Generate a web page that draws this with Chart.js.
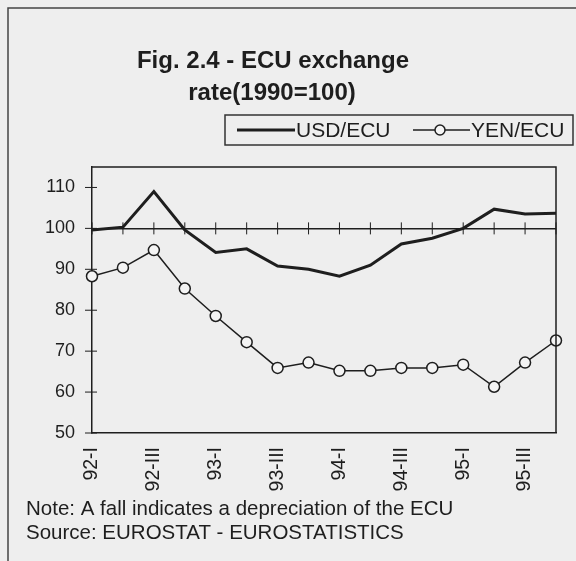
<!DOCTYPE html>
<html>
<head>
<meta charset="utf-8">
<script src="https://cdn.jsdelivr.net/npm/chart.js@4/dist/chart.umd.min.js"></script>
<style>
  html, body { margin: 0; padding: 0; background: #eeeeee; }
  #wrap { width: 576px; height: 561px; }
</style>
</head>
<body>
<div id="wrap"><canvas id="ecuChart" width="576" height="561"></canvas></div>
<script>
// quarters 1992-I .. 1995-IV
const quarters = ['92-I', '92-II', '92-III', '92-IV', '93-I', '93-II', '93-III', '93-IV',
                  '94-I', '94-II', '94-III', '94-IV', '95-I', '95-II', '95-III', '95-IV'];
const usdEcu = [99.6, 100.3, 109.0, 99.6, 94.1, 95.0, 90.8, 90.0,
                88.3, 91.0, 96.2, 97.6, 100.0, 104.7, 103.5, 103.7];
const yenEcu = [88.3, 90.4, 94.7, 85.3, 78.6, 72.2, 65.9, 67.2,
                65.2, 65.2, 65.9, 65.9, 66.7, 61.3, 67.2, 72.6];
const yTicks = [50, 60, 70, 80, 90, 100, 110];

const ink = '#1e1e1e';
const FONT = '"Liberation Sans", Arial, sans-serif';

const pagePlugin = {
    id: 'page',
    beforeDraw(chart) {
        const c = chart.ctx;
        c.save();
        c.fillStyle = '#eeeeee';
        c.fillRect(0, 0, chart.width, chart.height);
        // outer frame (left + top)
        c.strokeStyle = '#444';
        c.lineWidth = 1.5;
        c.beginPath();
        c.moveTo(8, chart.height);
        c.lineTo(8, 8);
        c.lineTo(chart.width, 8);
        c.stroke();
        c.restore();
    },
    afterDraw(chart) {
        const c = chart.ctx;
        const a = chart.chartArea;
        const x = chart.scales.x, y = chart.scales.y;
        c.save();
        c.strokeStyle = ink;
        c.lineWidth = 1.5;
        // plot frame top + right
        c.beginPath();
        c.moveTo(a.left, a.top);
        c.lineTo(a.right, a.top);
        c.lineTo(a.right, a.bottom);
        c.stroke();
        // y tick marks crossing the axis
        c.lineWidth = 1;
        yTicks.forEach(v => {
            const py = y.getPixelForValue(v);
            c.beginPath();
            c.moveTo(a.left - 7, py);
            c.lineTo(a.left + 5, py);
            c.stroke();
        });
        // category ticks sit on the 100 line
        const y100 = y.getPixelForValue(100);
        quarters.forEach((q, i) => {
            const px = x.getPixelForValue(i);
            c.beginPath();
            c.moveTo(px, y100 - 6);
            c.lineTo(px, y100 + 6);
            c.stroke();
        });

        // title
        c.fillStyle = ink;
        c.textAlign = 'center';
        c.textBaseline = 'alphabetic';
        c.font = 'bold 24px ' + FONT;
        c.fillText('Fig. 2.4 - ECU exchange', 273, 68);
        c.fillText('rate(1990=100)', 272, 100);

        // legend box
        c.lineWidth = 1.5;
        c.strokeStyle = '#333';
        c.strokeRect(225, 115, 348, 30);
        c.font = '21px ' + FONT;
        c.textAlign = 'left';
        c.textBaseline = 'middle';
        c.lineWidth = 3;
        c.strokeStyle = ink;
        c.beginPath();
        c.moveTo(237, 130);
        c.lineTo(295, 130);
        c.stroke();
        c.fillText('USD/ECU', 296, 131);
        c.lineWidth = 1.5;
        c.beginPath();
        c.moveTo(413, 130);
        c.lineTo(470, 130);
        c.stroke();
        c.beginPath();
        c.arc(440, 130, 5, 0, Math.PI * 2);
        c.fillStyle = '#f4f4f4';
        c.fill();
        c.stroke();
        c.fillStyle = ink;
        c.fillText('YEN/ECU', 471, 131);

        // notes
        c.font = '20.5px ' + FONT;
        c.textBaseline = 'alphabetic';
        c.fillText('Note: A fall indicates a depreciation of the ECU', 26, 515);
        c.fillText('Source: EUROSTAT - EUROSTATISTICS', 26, 539);
        c.restore();
    }
};

const ctx = document.getElementById('ecuChart').getContext('2d');

const ecuChart = new Chart(ctx, {
    type: 'line',
    data: {
        labels: quarters,
        datasets: [{
            label: 'USD/ECU',
            data: usdEcu,
            borderColor: ink,
            borderWidth: 3,
            pointRadius: 0,
            tension: 0,
            clip: false
        }, {
            label: 'YEN/ECU',
            data: yenEcu,
            borderColor: ink,
            borderWidth: 1.5,
            pointRadius: 5.5,
            pointBorderWidth: 1.5,
            pointBorderColor: ink,
            pointBackgroundColor: '#f4f4f4',
            tension: 0,
            clip: false
        }]
    },
    options: {
        responsive: false,
        animation: false,
        layout: {
            padding: { top: 167, left: 0, right: 20, bottom: 68 }
        },
        scales: {
            x: {
                offset: false,
                afterFit: s => {
                    s.height = 60;
                    s.paddingLeft = 0;
                    s.paddingRight = 0;
                },
                grid: { display: false, drawTicks: false },
                border: { display: true, color: ink, width: 1.5 },
                ticks: {
                    autoSkip: false,
                    minRotation: 90,
                    maxRotation: 90,
                    padding: 14,
                    color: ink,
                    font: { family: FONT, size: 19.5 },
                    callback: (v, i) => (i % 2 === 0 ? quarters[i] : '')
                }
            },
            y: {
                min: 50,
                max: 115,
                afterFit: s => { s.width = 92; },
                afterBuildTicks: s => { s.ticks = yTicks.map(v => ({ value: v })); },
                grid: {
                    drawTicks: false,
                    lineWidth: 1.5,
                    color: c => (c.tick && c.tick.value === 100 ? ink : 'rgba(0,0,0,0)')
                },
                border: { display: true, color: ink, width: 1.5 },
                ticks: {
                    padding: 17,
                    color: ink,
                    font: { family: FONT, size: 18 }
                }
            }
        },
        plugins: {
            legend: { display: false },
            title: { display: false },
            tooltip: { enabled: false }
        }
    },
    plugins: [pagePlugin]
});
</script>
</body>
</html>
